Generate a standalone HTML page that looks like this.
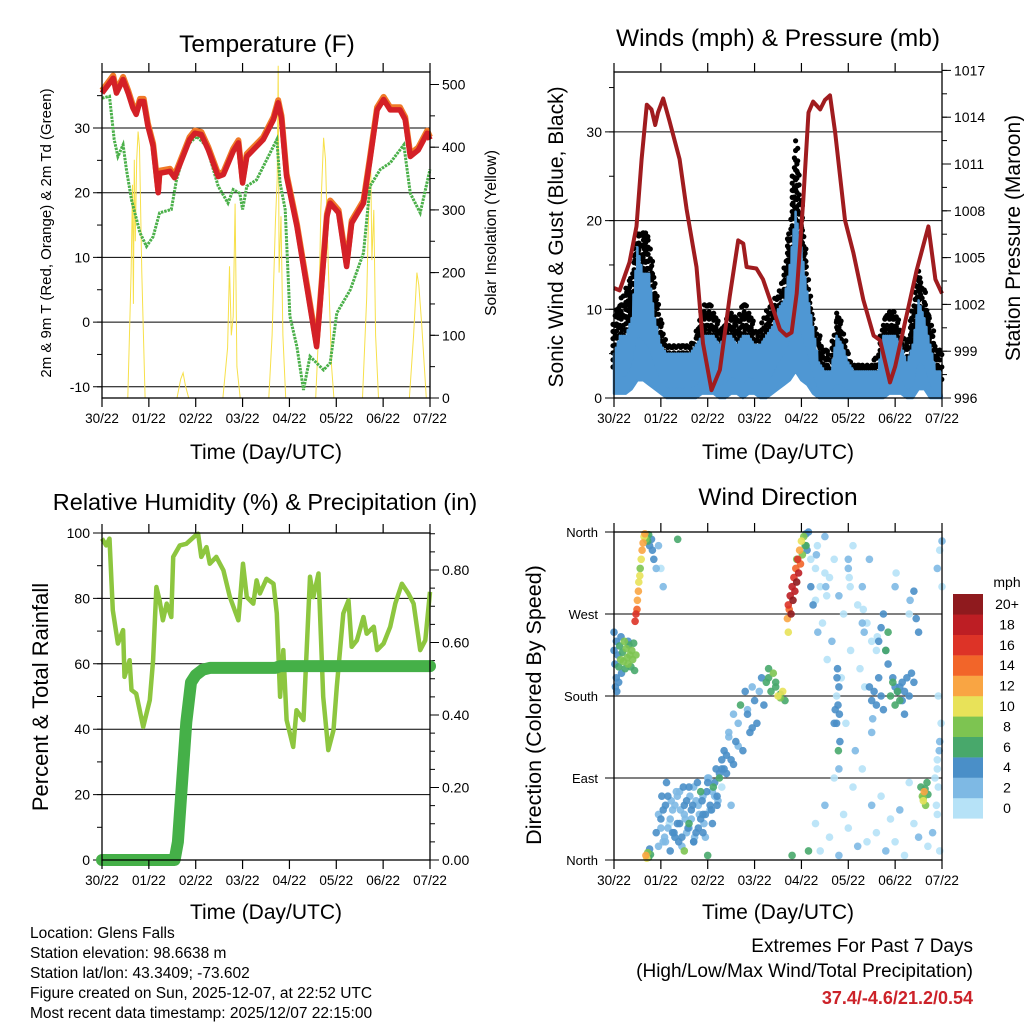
<!DOCTYPE html>
<html><head><meta charset="utf-8"><title>Glens Falls station meteogram</title>
<style>
html,body{margin:0;padding:0;background:#fff;}
svg{display:block;font-family:"Liberation Sans",sans-serif;}
</style></head>
<body>
<svg id="chart" width="1024" height="1024" viewBox="0 0 1024 1024" xmlns="http://www.w3.org/2000/svg">
<rect x="0" y="0" width="1024" height="1024" fill="#fff"/>
<g id="g1"></g>
<g id="g2"></g>
<g id="g3"></g>
<g id="g4"></g>
<text x="267" y="52" font-size="24.5" text-anchor="middle">Temperature (F)</text>
<text x="778" y="46" font-size="24.5" text-anchor="middle">Winds (mph) &amp; Pressure (mb)</text>
<text x="265" y="510" font-size="23.5" text-anchor="middle">Relative Humidity (%) &amp; Precipitation (in)</text>
<text x="778" y="505" font-size="24.5" text-anchor="middle">Wind Direction</text>
<text x="266" y="459" font-size="21" text-anchor="middle">Time (Day/UTC)</text>
<text x="778" y="459" font-size="21" text-anchor="middle">Time (Day/UTC)</text>
<text x="266" y="919" font-size="21" text-anchor="middle">Time (Day/UTC)</text>
<text x="778" y="919" font-size="21" text-anchor="middle">Time (Day/UTC)</text>
<text transform="translate(51,233) rotate(-90)" font-size="15" text-anchor="middle">2m &amp; 9m T (Red, Orange) &amp; 2m Td (Green)</text>
<text transform="translate(496,233) rotate(-90)" font-size="15.5" text-anchor="middle">Solar Insolation (Yellow)</text>
<text transform="translate(563,237) rotate(-90)" font-size="21" text-anchor="middle">Sonic Wind &amp; Gust (Blue, Black)</text>
<text transform="translate(1020,238) rotate(-90)" font-size="21" text-anchor="middle">Station Pressure (Maroon)</text>
<text transform="translate(48,697) rotate(-90)" font-size="22" text-anchor="middle">Percent &amp; Total Rainfall</text>
<text transform="translate(541,705) rotate(-90)" font-size="21.5" text-anchor="middle">Direction (Colored By Speed)</text>
<g font-size="15.5">
<text x="30" y="938">Location: Glens Falls</text>
<text x="30" y="958">Station elevation: 98.6638 m</text>
<text x="30" y="978">Station lat/lon: 43.3409; -73.602</text>
<text x="30" y="998">Figure created on Sun, 2025-12-07, at 22:52 UTC</text>
<text x="30" y="1018">Most recent data timestamp: 2025/12/07 22:15:00</text>
</g>
<text x="973" y="952" font-size="19" text-anchor="end">Extremes For Past 7 Days</text>
<text x="973" y="977" font-size="19" text-anchor="end">(High/Low/Max Wind/Total Precipitation)</text>
<text x="973" y="1004" font-size="18" font-weight="bold" fill="#cc2229" text-anchor="end">37.4/-4.6/21.2/0.54</text>
<g id="legend"></g>
</svg>
<script>
// ---------- data ----------
const dayLabels = ["30/22","01/22","02/22","03/22","04/22","05/22","06/22","07/22"];
const tempT = [0,.24,.31,.45,.56,.66,.73,.81,.89,.98,1.09,1.2,1.23,1.45,1.55,1.87,1.98,2.12,2.27,2.48,2.59,2.8,2.91,3.0,3.09,3.44,3.66,3.76,3.83,3.94,4.16,4.37,4.58,4.65,4.8,4.87,5.05,5.22,5.33,5.58,5.72,5.87,6.01,6.15,6.36,6.47,6.58,6.75,6.94,7.0];
const tempV = [35.4,37.7,35.4,37.5,35.4,33.1,32.1,34.1,34.1,30.3,27.2,20,23,23.3,22.3,28.2,29.2,29,26.6,22.5,22.8,26.4,27.7,21.5,25.6,28.2,31.3,33.9,31.5,22.5,14.8,5.5,-3.8,2.4,16.3,18.4,16.9,8.6,15.3,18.4,25.1,32.8,34.4,32.8,32.8,31.3,25.6,26.6,29.2,28.2];
const dewT = [0,.16,.26,.34,.45,.52,.63,.81,.95,1.09,1.23,1.48,1.59,1.8,2.02,2.23,2.48,2.69,2.8,2.94,3.0,3.09,3.3,3.73,3.8,3.91,4.01,4.16,4.3,4.44,4.73,4.87,5.01,5.3,5.58,5.72,5.94,6.15,6.44,6.58,6.79,7.0];
const dewV = [34.6,34.9,28.2,25.6,27.4,23.6,18.9,13.8,11.7,13.2,16.9,17.4,22,27.2,28.7,27.2,21,18.4,20.5,19.9,17.4,21,22,28.2,21.5,17.4,0.9,-3.8,-10.5,-5.3,-7.4,-6.3,1.4,5,10.7,21,23.6,24.6,27.4,19.9,16.9,23.6];
const solT = [0,.55,.62,.65,.67,.69,.71,.74,.77,.8,.85,.92,1.6,1.68,1.73,1.78,1.85,2.58,2.68,2.72,2.76,2.8,2.84,2.88,2.95,3.56,3.63,3.7,3.74,3.76,3.78,3.82,3.86,3.92,4.56,4.62,4.67,4.73,4.77,4.83,4.9,4.95,5.56,5.65,5.7,5.73,5.76,5.8,5.84,5.9,6.56,6.65,6.72,6.76,6.82,6.92,7.0];
const solV = [0,0,200,340,150,380,250,380,425,400,200,0,0,30,40,20,0,0,80,210,100,130,310,50,0,0,100,280,350,530,200,290,100,0,0,100,300,415,380,210,50,0,0,160,330,400,220,300,100,0,0,100,200,180,120,0,0];
const presT = [0,.12,.33,.48,.59,.7,.8,.88,.94,1.05,1.18,1.4,1.55,1.76,1.9,2.08,2.26,2.47,2.65,2.76,2.83,3.04,3.18,3.33,3.54,3.68,3.79,3.9,4.04,4.15,4.25,4.4,4.5,4.61,4.72,4.93,5.11,5.32,5.54,5.68,5.89,6.0,6.32,6.46,6.71,6.86,7.0];
const presV = [1003.05,1002.9,1004.7,1007,1011.3,1014.8,1014.5,1013.5,1014.3,1015.2,1013.8,1011.3,1008.1,1004.4,999.5,996.5,997.8,1002.5,1006.1,1005.9,1004.4,1004.3,1003.6,1002.3,1000.4,1000,1000.2,1002.7,1008.7,1014.3,1015,1014.5,1015.1,1015.4,1013,1007.4,1005.3,1002.3,1000,999.7,997,998,1002.3,1004.2,1007,1003.6,1002.7];
const spdHi = [5,7,7,9,17,14,14,9,6,5,5,5,5,5,6,7,7,7,6,7,7,6,7,7,6,6,7,8,10,11,15,21,17,12,8,4,3,3,7,6,4,3,3,3,3,3,7,7,7,6,4,6,11,9,6,3,3];
const spdLo = [1,1,1,2,4,4,3,2,1,0,0,0,0,0,0,1,1,1,0,0,1,1,0,1,1,0,0,1,2,3,4,6,4,3,1,0,0,0,0,0,0,0,0,0,0,0,0,1,1,1,0,0,2,2,0,0,0];
const gust = [9,11,12,14,19,19,18,13,9,6,6,6,6,6,7,10,11,10,8,9,10,9,11,10,8,8,10,11,12,14,19,30,22,15,9,7,6,5,10,8,5,4,4,4,4,5,9,10,10,8,6,10,15,12,9,6,5];
const rhT = [0,.09,.16,.23,.34,.45,.48,.59,.63,.73,.88,1.02,1.09,1.16,1.23,1.3,1.38,1.48,1.52,1.66,1.8,2.0,2.05,2.12,2.23,2.3,2.44,2.59,2.73,2.91,3.01,3.09,3.23,3.3,3.37,3.51,3.66,3.73,3.8,3.87,3.94,4.08,4.15,4.3,4.44,4.51,4.62,4.72,4.83,4.94,5.01,5.15,5.26,5.33,5.44,5.58,5.65,5.8,5.87,6.01,6.15,6.26,6.4,6.54,6.65,6.79,6.9,7.0];
const rhV = [98.3,96.2,98.3,76.4,66.2,70.3,56,61.1,52,50.9,40.7,48.9,61.1,83.5,79.4,73.3,78.4,74.3,92.7,96.2,96.7,99.3,99.8,92.7,95.7,90.6,92.7,88.6,80.4,73.3,90.6,80.4,78.4,85.5,81.5,86,84.5,75.4,49.9,64.2,42.8,34.6,45.8,42.8,86.6,80.4,87.6,49.9,33.6,39.7,53,75.4,79.4,65.2,67.2,74.3,69.2,71.3,64.2,66.2,71.3,78.4,84.5,81.5,78.4,64.2,67.2,82];
const prT = [0,1.55,1.62,1.7,1.8,1.9,2.0,2.15,2.3,3.7,3.8,7.0];
const prV = [0,0,0.05,0.2,0.38,0.49,0.51,0.525,0.53,0.53,0.535,0.535];
// wind direction scatter: time (days), direction (deg), speed (mph)
const dirT = [0,.02,.05,.05,.08,.1,.12,.14,.16,.18,.2,.22,.24,.26,.28,.3,.32,.34,.36,.38,.4,.42,.44,.47,.03,.06,.1,0,.15,.3,
.45,.47,.49,.5,.52,.53,.55,.56,.58,.6,.62,.64,.66,.68,.7,.72,.74,.76,.8,.82,.85,.9,.95,1.05,1.0,1.36,
.68,.7,.72,.74,.76,.78,
.9,.95,1.0,1.05,1.1,1.15,1.2,1.25,1.3,1.35,1.4,1.45,1.5,1.55,1.6,1.65,1.7,1.75,1.8,1.85,1.9,1.95,2.0,2.05,2.1,2.15,2.2,2.25,
.95,1.02,1.08,1.12,1.18,1.22,1.28,1.33,1.38,1.42,1.48,1.52,1.58,1.62,1.68,1.72,1.78,1.82,1.88,1.92,1.98,2.02,2.08,2.12,2.18,2.22,
1.5,1.6,1.7,1.9,2.0,2.3,2.35,2.4,2.45,2.5,2.55,2.6,2.65,2.7,2.75,2.8,2.85,2.9,2.95,3.0,3.05,3.1,3.15,3.2,2.3,2.4,2.5,2.45,2.55,2.65,2.85,2.95,
3.25,3.3,3.35,3.4,3.45,3.5,3.55,3.6,3.65,3.3,3.45,3.55,
3.7,3.72,3.74,3.76,3.78,3.8,3.82,3.84,3.86,3.88,3.9,3.92,3.94,3.96,3.98,4.0,4.02,4.05,4.08,4.1,4.12,4.15,3.72,3.9,4.1,4.2,4.25,3.8,4.15,
4.2,4.3,4.35,4.4,4.45,4.5,4.55,4.6,4.65,4.7,4.75,4.8,4.85,4.9,4.95,5.0,5.05,5.1,5.15,5.2,5.25,5.3,5.35,5.4,5.45,5.5,
4.3,4.4,4.5,4.6,4.7,4.8,4.9,5.0,5.1,5.2,5.3,5.4,5.5,5.6,5.7,5.8,5.9,6.0,6.1,6.2,6.3,6.4,6.5,6.6,6.7,6.8,6.9,6.95,
4.75,4.78,4.8,4.82,4.77,4.79,4.81,4.76,4.8,5.45,5.5,5.55,5.6,5.65,5.7,5.75,5.8,5.85,5.9,5.95,6.0,6.05,6.1,6.15,6.2,6.25,6.3,6.35,6.4,
5.65,5.7,5.75,5.8,5.85,5.95,6.0,6.05,6.1,6.15,6.2,6.4,6.45,6.5,
6.55,6.58,6.6,6.62,6.65,6.68,6.7,6.6,6.64,
6.85,6.9,6.95,6.98,7.0,6.9,6.95,7.0,6.88,6.92,
1.0,1.05,1.1,1.15,1.2,1.25,1.3,1.35,1.4,1.45,1.5,1.55,1.6,1.65,1.7,1.75,1.8,1.85,1.9,1.95,2.0,2.05,2.1,2.15,2.2,2.25,2.3,2.35,
4.3,4.32,4.34,4.5,4.52,4.54,5.0,5.02,5.04,5.3,5.32,5.34,5.6,5.62,6.0,6.02,6.3,6.32,6.9,6.92,6.94,4.7,4.72,5.5,5.52];
const dirD = [230,215,240,200,225,212,235,220,205,228,218,240,210,232,222,215,236,225,212,230,220,238,208,225,190,185,195,250,245,240,
262,270,275,285,295,305,312,320,330,340,348,355,358,352,356,350,357,345,352,340,330,320,345,300,320,352,
5,2,8,3,12,6,
30,15,45,20,60,35,10,55,25,70,40,15,60,30,80,45,20,65,35,75,50,25,85,55,40,70,60,90,
50,70,25,85,40,65,30,75,20,55,80,45,35,70,60,25,85,50,65,40,75,90,55,80,100,65,
10,40,20,30,5,100,120,95,140,110,160,130,150,170,120,185,165,140,190,175,150,185,200,170,80,115,60,135,105,125,160,145,
195,200,185,205,190,180,178,185,175,210,195,182,
265,280,275,290,270,300,285,310,295,320,305,330,315,340,325,350,335,355,345,358,340,360,250,330,345,300,280,5,10,
330,285,250,300,260,355,220,310,240,330,180,290,200,270,150,320,230,345,120,280,210,300,190,260,330,240,
40,10,60,25,90,5,50,35,80,15,100,20,60,30,70,10,45,20,55,5,85,40,25,65,15,30,50,10,
150,170,190,130,210,120,160,200,100,190,175,185,170,200,180,165,230,250,180,195,170,185,190,175,160,200,180,205,195,
240,255,270,230,215,200,190,185,175,195,185,295,265,250,
80,70,65,75,60,85,72,68,78,
90,110,130,150,300,320,340,350,60,180,
35,55,20,70,45,30,60,40,75,25,50,65,35,55,80,30,60,45,70,50,90,60,75,85,70,95,110,100,
320,335,345,315,300,290,330,310,300,260,275,250,230,245,300,315,270,285,100,80,120,150,165,140,155];
const dirS = [4,4,4,4,4,6,6,8,4,6,8,8,6,8,8,8,6,8,6,8,8,6,6,8,4,4,4,4,4,4,
16,16,14,12,12,10,10,8,10,12,12,10,12,8,6,6,6,4,4,4,4,2,2,2,0,6,
12,10,8,6,4,6,
4,2,4,2,4,2,4,2,4,2,4,2,4,2,4,2,4,2,4,6,4,2,4,2,4,2,4,6,
2,4,2,4,0,2,4,2,4,2,4,2,4,2,4,2,4,2,4,2,4,2,4,6,4,2,
8,6,4,4,6,4,4,4,2,4,2,4,2,6,4,4,2,4,2,4,4,2,4,4,0,4,2,2,4,2,4,4,
6,6,6,8,6,10,8,10,6,6,6,6,
12,16,14,18,20,18,20,16,18,14,20,16,18,12,14,10,8,8,6,4,4,4,10,8,6,4,4,6,6,
0,0,2,0,0,2,0,0,2,0,0,2,0,0,0,2,0,0,2,0,0,2,0,0,2,0,
0,0,2,0,0,2,0,0,0,2,0,0,2,0,0,2,0,0,2,0,0,0,2,0,0,2,0,0,
4,4,4,4,4,6,4,4,2,4,4,4,4,4,4,4,6,6,6,6,6,4,4,4,4,4,4,4,4,
4,4,4,4,4,4,4,6,6,4,4,4,4,4,
6,8,10,12,8,6,6,8,6,
0,0,2,0,0,2,0,2,0,0,
2,4,2,4,2,4,2,4,2,4,2,4,2,4,2,4,2,4,2,4,2,4,2,4,4,4,4,4,
0,2,0,0,2,0,2,0,0,2,0,2,0,0,2,0,0,2,0,0,2,4,4,2,2];
const speedBins = ["0","2","4","6","8","10","12","14","16","18","20+"];
const speedColors = ["#b6e2f7","#7eb9e4","#4a8fc8","#48a86b","#7dc451","#e8e259","#f9a543","#f26529","#dd3327","#bd1e24","#8f1a1e"];

// ---------- helpers ----------
const NS="http://www.w3.org/2000/svg";
function mk(parent,tag,attrs){const e=document.createElementNS(NS,tag);for(const k in attrs)e.setAttribute(k,attrs[k]);parent.appendChild(e);return e;}
function frame(g,x0,x1,y0,y1,name){
  const r=mk(g,'rect',{x:x0,y:y0,width:x1-x0,height:y1-y0,fill:'none',stroke:'#000','stroke-width':1.3});
  
  
  for(let i=0;i<8;i++){
    const x=x0+(x1-x0)*i/7;
    mk(g,'line',{x1:x,x2:x,y1:y0-9,y2:y0,stroke:'#000','stroke-width':1.2});
    mk(g,'line',{x1:x,x2:x,y1:y1,y2:y1+9,stroke:'#000','stroke-width':1.2});
    const t=mk(g,'text',{x:x,y:y1+25,'font-size':13.5,'text-anchor':'middle'});
    t.textContent=dayLabels[i];
    
    
  }
}
function leftAxis(g,x0,x1,ys,vals,minor,fmt,grid){
  minor.forEach(v=>mk(g,'line',{x1:x0-5,x2:x0,y1:ys(v),y2:ys(v),stroke:'#000','stroke-width':1}));
  vals.forEach(v=>{
    const y=ys(v);
    if(grid) mk(g,'line',{x1:x0-9,x2:x1,y1:y,y2:y,stroke:'#000','stroke-width':1});
    else mk(g,'line',{x1:x0-9,x2:x0,y1:y,y2:y,stroke:'#000','stroke-width':1});
    const t=mk(g,'text',{x:x0-12,y:y+5,'font-size':14,'text-anchor':'end'});
    t.textContent=fmt(v);
    
    
  });
}
function rightAxis(g,x1,ys,vals,minor,fmt){
  minor.forEach(v=>mk(g,'line',{x1:x1,x2:x1+5,y1:ys(v),y2:ys(v),stroke:'#000','stroke-width':1}));
  vals.forEach(v=>{
    const y=ys(v);
    mk(g,'line',{x1:x1,x2:x1+9,y1:y,y2:y,stroke:'#000','stroke-width':1});
    const t=mk(g,'text',{x:x1+12,y:y+5,'font-size':14,'text-anchor':'start'});
    t.textContent=fmt(v);
    
    
  });
}
function pts(T,V,xs,ys){return T.map((t,i)=>xs(t).toFixed(1)+','+ys(V[i]).toFixed(1)).join(' ');}
function range(a,b,s){const r=[];for(let v=a;v<=b+1e-9;v+=s)r.push(+v.toFixed(4));return r;}

// ---------- panel 1: temperature ----------
(function(){
  const g=document.getElementById('g1');
  const x0=102,x1=430,y0=72,y1=398;
  const xs=t=>x0+(x1-x0)*t/7, yT=v=>128-(v-30)*6.47, yS=v=>398-v*0.627;
  leftAxis(g,x0,x1,yT,[30,20,10,0,-10],range(-10,35,5),v=>String(v),true);
  rightAxis(g,x1,yS,[0,100,200,300,400,500],range(0,500,50),v=>String(v));
  const s=mk(g,'polyline',{points:pts(solT,solV,xs,yS),fill:'none',stroke:'#f7e04a','stroke-width':1});
  
  
  const d=mk(g,'polyline',{points:pts(dewT,dewV,xs,yT),fill:'none',stroke:'#4bb04a','stroke-width':3,'stroke-dasharray':'2.5 1'});
  
  
  const o=mk(g,'polyline',{points:pts(tempT,tempV.map(v=>v+0.4),xs,yT),fill:'none',stroke:'#f07a28','stroke-width':6,'stroke-linejoin':'round'});
  
  
  const r=mk(g,'polyline',{points:pts(tempT,tempV,xs,yT),fill:'none',stroke:'#d42027','stroke-width':5.5,'stroke-linejoin':'round'});
  
  
  frame(g,x0,x1,y0,y1,'temperature');
})();

// ---------- panel 2: winds ----------
(function(){
  const g=document.getElementById('g2');
  const x0=614,x1=942,y0=72,y1=398;
  const xs=t=>x0+(x1-x0)*t/7, yW=v=>398-v*8.87, yP=p=>398-(p-996)*15.6;
  leftAxis(g,x0,x1,yW,[0,10,20,30],range(0,35,5),v=>String(v),true);
  rightAxis(g,x1,yP,range(996,1017,3),range(996,1017,1.5),v=>String(v));
  const n=spdHi.length, T=spdHi.map((_,i)=>7*i/(n-1));
  const gd=mk(g,'g',{fill:'#000'});
  
  
  for(let i=0;i<n-1;i++){
    for(let k=0;k<5;k++){
      const f=k/5, t=T[i]+(T[i+1]-T[i])*f;
      const lo=spdHi[i]+(spdHi[i+1]-spdHi[i])*f, hi=gust[i]+(gust[i+1]-gust[i])*f;
      for(let v=lo*0.7;v<=hi;v+=0.8+((i+k)%3)*0.3){
        mk(gd,'circle',{cx:(xs(t)+((k*7+i)%3-1)).toFixed(1),cy:yW(v).toFixed(1),r:2.6});
      }
    }
  }
  // jagged speed trace between low and high envelopes
  const bp=[];
  for(let i=0;i<n-1;i++){
    for(let k=0;k<6;k++){
      const f=k/6, t=T[i]+(T[i+1]-T[i])*f;
      const lo=spdLo[i]+(spdLo[i+1]-spdLo[i])*f, hi=spdHi[i]+(spdHi[i+1]-spdHi[i])*f;
      const v=(k%2===0)?hi:lo+(hi-lo)*0.25;
      bp.push(xs(t).toFixed(1)+','+yW(v).toFixed(1));
    }
  }
  const poly=T.map((t,i)=>xs(t).toFixed(1)+','+yW(spdLo[i]*0.5).toFixed(1)).reverse();
  const b=mk(g,'polygon',{points:bp.concat(poly).join(' '),fill:'#4f97d3',stroke:'#4f97d3','stroke-width':2.5,'stroke-linejoin':'round'});
  
  
  const p=mk(g,'polyline',{points:pts(presT,presV,xs,yP),fill:'none',stroke:'#a01c1f','stroke-width':4,'stroke-linejoin':'round'});
  
  
  frame(g,x0,x1,y0,y1,'winds');
})();

// ---------- panel 3: humidity ----------
(function(){
  const g=document.getElementById('g3');
  const x0=102,x1=430,y0=533,y1=860;
  const xs=t=>x0+(x1-x0)*t/7, yR=v=>860-v*3.27, yPr=v=>860-v*362.5;
  leftAxis(g,x0,x1,yR,[0,20,40,60,80,100],range(0,100,10),v=>String(v),true);
  rightAxis(g,x1,yPr,[0,0.2,0.4,0.6,0.8],range(0,0.9,0.05),v=>v.toFixed(2));
  const h=mk(g,'polyline',{points:pts(rhT,rhV,xs,yR),fill:'none',stroke:'#8dc63f','stroke-width':4.5,'stroke-linejoin':'round'});
  
  
  const pr=mk(g,'polyline',{points:pts(prT,prV,xs,yPr),fill:'none',stroke:'#45b048','stroke-width':12,'stroke-linejoin':'round','stroke-linecap':'round'});
  
  
  frame(g,x0,x1,y0,y1,'humidity');
})();

// ---------- panel 4: wind direction ----------
(function(){
  const g=document.getElementById('g4');
  const x0=614,x1=942,y0=532,y1=860;
  const xs=t=>x0+(x1-x0)*t/7, yD=d=>860-d*(328/360);
  const names=["North","East","South","West","North"];
  [0,90,180,270,360].forEach((d,i)=>{
    const y=yD(d);
    mk(g,'line',{x1:x0-9,x2:x1,y1:y,y2:y,stroke:'#000','stroke-width':1});
    const t=mk(g,'text',{x:x0-16,y:y+5,'font-size':13,'text-anchor':'end'});
    t.textContent=names[i];
    
    
  });
  const sg=mk(g,'g',{});
  
  
  const order=dirS.map((s,i)=>i).sort((a,b)=>dirS[a]-dirS[b]);
  order.forEach(i=>{
    const bin=Math.min(10,Math.round(dirS[i]/2));
    const c=mk(sg,'circle',{cx:xs(dirT[i]).toFixed(1),cy:yD(dirD[i]).toFixed(1),r:3.8,fill:speedColors[bin],'fill-opacity':0.9});
    
    
  });
  frame(g,x0,x1,y0,y1,'direction');
  const L=document.getElementById('legend');
  const lt=mk(L,'text',{x:1007,y:587,'font-size':14,'text-anchor':'middle'});
  lt.textContent='mph';
  
  
  for(let k=0;k<11;k++){
    const y=594+(10-k)*20.4;
    const r=mk(L,'rect',{x:953,y:y.toFixed(1),width:30,height:20.6,fill:speedColors[k]});
    
    
    const t=mk(L,'text',{x:1007,y:(y+15).toFixed(1),'font-size':14,'text-anchor':'middle'});
    t.textContent=speedBins[k];
    
    
  }
})();
</script>
</body></html>
